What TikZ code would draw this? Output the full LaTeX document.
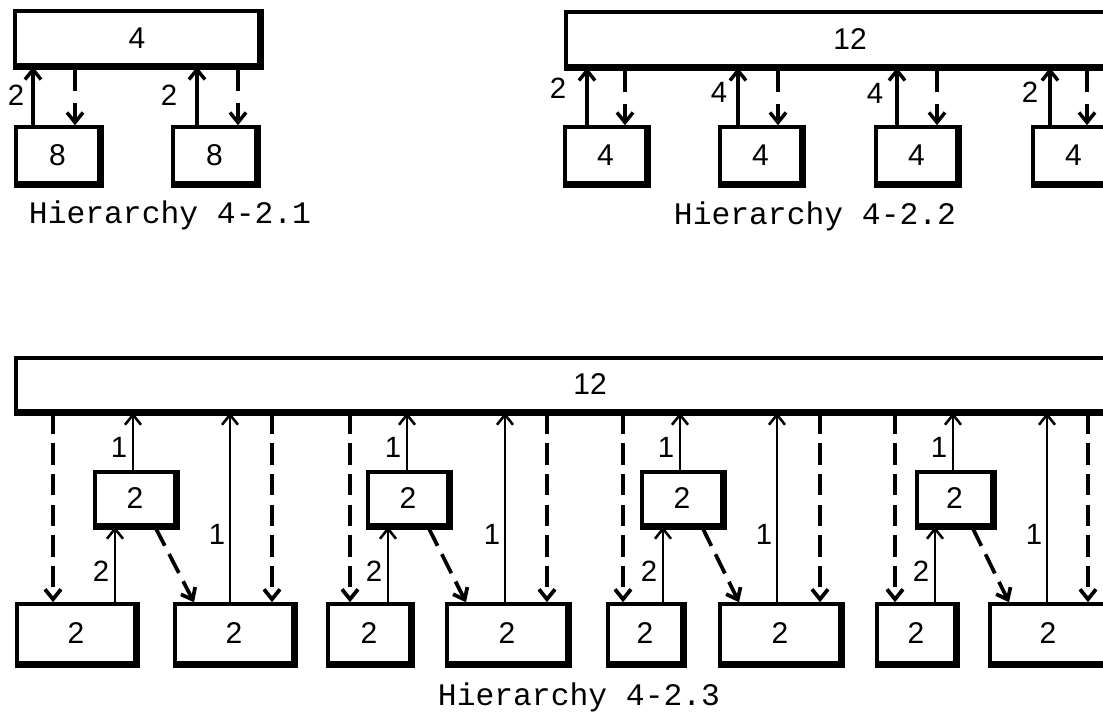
\documentclass[tikz,border=0pt]{standalone}
\usepackage{fontspec}
\setmainfont{Liberation Sans}
\newfontfamily\capfont{Liberation Mono}
\usetikzlibrary{arrows.meta}
\newcommand\pbox[6]{%
  \node[boxst, minimum width={(#4-#2)*0.75pt}, minimum height={(#5-#3)*0.75pt}] (#1) at ({(#2+#4)/2},{(#3+#5)/2}) {#6};
  \draw[shadowst] ([yshift=-1.2pt]#1.south west) -- ([yshift=-1.2pt,xshift=1.2pt]#1.south east) -- ([xshift=1.2pt]#1.north east);
}
\begin{document}
\begin{tikzpicture}[x=0.75pt,y=-0.75pt,
  boxst/.style={draw, line width=2.6pt, inner sep=0pt, font=\fontsize{22.5}{25}\selectfont},
  shadowst/.style={line width=1.8pt},
  lab/.style={inner sep=0pt, font=\fontsize{22}{25}\selectfont},
  capst/.style={inner sep=0pt, anchor=base, font=\capfont\fontsize{23.5}{26}\selectfont},
  tip/.style={-{Straight Barb[length=7.5pt,width=12pt]}},
  uparr/.style={line width=2.6pt, tip},
  dnarr/.style={line width=2.6pt, dash pattern=on 18pt off 9pt, tip},
  upthin/.style={line width=1.9pt, tip},
  dnlong/.style={line width=2.8pt, dash pattern=on 16pt off 7pt, tip}]
\useasboundingbox (0,0) rectangle (1103,720);
\fill[white] (0,0) rectangle (1103,720);
\clip (0,0) rectangle (1103,720);

% ---------- Hierarchy 4-2.1 ----------
\pbox{big4}{15}{11}{259}{65}{4}
\pbox{b8a}{16}{127}{99}{183}{8}
\pbox{b8b}{173}{127}{256}{183}{8}
\coordinate (ta1) at (33,0);
\coordinate (ta2) at (75,0);
\coordinate (ta3) at (197,0);
\coordinate (ta4) at (238,0);
\draw[uparr] (b8a.north -| ta1) -- (big4.south -| ta1);
\draw[dnarr] (big4.south -| ta2) -- (b8a.north -| ta2);
\draw[uparr] (b8b.north -| ta3) -- (big4.south -| ta3);
\draw[dnarr] (big4.south -| ta4) -- (b8b.north -| ta4);
\node[lab] (la1) at (16,95) {2};
\node[lab] (la2) at (169,95) {2};
\node[capst] (cap1) at (170,224) {Hierarchy 4-2.1};

% ---------- Hierarchy 4-2.2 ----------
\pbox{big12}{566}{12}{1134}{66}{12}
\foreach \n/\l/\u/\d/\lx/\ly/\t in {1/565/587/625/558/88/2, 2/720/738/778/719/92/4, 3/876/897/937/875/93/4, 4/1033/1050/1087/1030/92/2}{
  \pbox{c\n}{\l}{127}{\l+81}{183}{4}
  \coordinate (cu\n) at (\u,0);
  \coordinate (cd\n) at (\d,0);
  \draw[uparr] (c\n.north -| cu\n) -- (big12.south -| cu\n);
  \draw[dnarr] (big12.south -| cd\n) -- (c\n.north -| cd\n);
  \node[lab] (lc\n) at (\lx,\ly) {\t};
}
\node[capst] (cap2) at (815,225) {Hierarchy 4-2.2};

% ---------- Hierarchy 4-2.3 ----------
\pbox{bigb}{16}{358}{1164}{411}{12}
\foreach \n/\al/\ar/\ml/\mr/\bl/\br/\da/\ua/\um/\lg/\db in {
  1/17/135/95/175/175/293/53/115/133/230/272,
  2/328/410/368/448/447/567/350/388/407/505/547,
  3/608/682/642/722/720/840/623/663/680/777/820,
  4/877/955/917/992/990/1106/895/935/953/1047/1088}{
  \pbox{A\n}{\al}{604}{\ar}{663}{2}
  \pbox{M\n}{\ml}{472}{\mr}{525}{2}
  \pbox{B\n}{\bl}{604}{\br}{663}{2}
  \coordinate (da\n) at (\da,0);
  \coordinate (ua\n) at (\ua,0);
  \coordinate (um\n) at (\um,0);
  \coordinate (lg\n) at (\lg,0);
  \coordinate (db\n) at (\db,0);
  \coordinate (ds\n) at ({\mr-20},0);
  \coordinate (de\n) at ({\bl+19},0);
  \draw[dnlong] (bigb.south -| da\n) -- (A\n.north -| da\n);
  \draw[upthin] (A\n.north -| ua\n) -- (M\n.south -| ua\n);
  \draw[upthin] (M\n.north -| um\n) -- (bigb.south -| um\n);
  \draw[dnlong] (M\n.south -| ds\n) -- (B\n.north -| de\n);
  \draw[upthin] (B\n.north -| lg\n) -- (bigb.south -| lg\n);
  \draw[dnlong] (bigb.south -| db\n) -- (B\n.north -| db\n);
  \node[lab] (l1\n) at ({\um-14},447) {1};
  \node[lab] (l2\n) at ({\ua-14},571) {2};
  \node[lab] (l3\n) at ({\lg-13},534) {1};
}
\node[capst] (cap3) at (579,705) {Hierarchy 4-2.3};
\end{tikzpicture}
\end{document}
